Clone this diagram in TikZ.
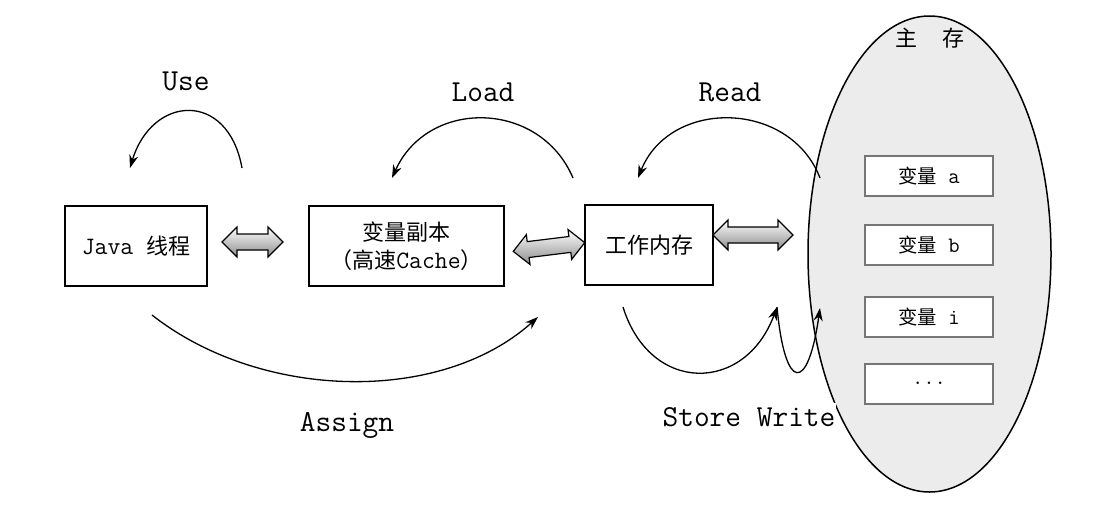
\documentclass[tikz,border=0pt]{standalone}
\usepackage{fontspec}
\newfontfamily\cjk[Scale=0.88]{Noto Sans CJK SC}
\usetikzlibrary{shapes.geometric,arrows.meta}
\definecolor{memfill}{RGB}{236,236,236}
\definecolor{boxgray}{RGB}{118,118,118}
\newcommand{\FatDblArrow}[4]{%
  \begin{scope}[rotate around={#4:({(#1+#2)/2},#3)}]
    \path[fat] (#1,#3) -- ({#1+15},{#3-15}) -- ({#1+15},{#3-8}) -- ({#2-15},{#3-8})
      -- ({#2-15},{#3-15}) -- (#2,#3) -- ({#2-15},{#3+15}) -- ({#2-15},{#3+8})
      -- ({#1+15},{#3+8}) -- ({#1+15},{#3+15}) -- cycle;
  \end{scope}}
\begin{document}
\begin{tikzpicture}[x=1pt,y=-1pt,
  box/.style={draw, line width=1.8pt, minimum height=80pt, inner sep=0pt,
    font=\ttfamily\fontsize{25}{28}\selectfont},
  membox/.style={draw=boxgray, fill=white, line width=2pt, minimum width=128pt,
    minimum height=40pt, inner sep=0pt, font=\ttfamily\fontsize{22}{25}\selectfont},
  lbl/.style={font=\ttfamily\fontsize{30.5}{33}\selectfont, inner sep=1pt},
  arc/.style={line width=1.3pt, -{Stealth[length=13pt,width=9pt]}},
  fat/.style={draw=black, line width=1.2pt, top color=white, bottom color=black!45}]
\useasboundingbox (0,0) rectangle (1117,507);
\fill[white] (0,0) rectangle (1117,507);

% main memory
\node[ellipse, draw, fill=memfill, line width=1.5pt, minimum width=243pt,
  minimum height=476pt, inner sep=0pt] (mem) at (929.5,254) {};
\node[font=\fontsize{25}{28}\selectfont] (memt) at (930,38) {{\cjk 主}\hspace{26pt}{\cjk 存}};
\node[membox] (va) at (929,176) {{\cjk 变量}\ a};
\node[membox] (vb) at (929,245) {{\cjk 变量}\ b};
\node[membox] (vi) at (929,317) {{\cjk 变量}\ i};
\node[membox] (vd) at (929,383.5) {...};

% boxes
\node[box, minimum width=142pt] (java) at (136,246) {Java {\cjk 线程}};
\node[box, minimum width=195pt, align=center] (cache) at (406.5,246)
  {{\cjk 变量副本}\\{\cjk （高速}Cache{\cjk ）}};
\node[box, minimum width=128pt] (work) at (649,245) {\cjk 工作内存};

% fat double arrows
\FatDblArrow{222}{283}{242}{0}
\FatDblArrow{513}{585}{247}{7}
\FatDblArrow{713}{793}{235}{0}

% curved arrows
\coordinate (useS) at (242,168);
\coordinate (useE) at (130,168);
\draw[arc] (useS) .. controls (228,90) and (152,95) .. (useE);
\node[lbl] (useL) at (186,81) {Use};

\coordinate (loadS) at (573,178);
\coordinate (loadE) at (392,178);
\draw[arc] (loadS) .. controls (540,100) and (428,98) .. (loadE);
\node[lbl] (loadL) at (483,92) {Load};

\coordinate (readS) at (820,178);
\coordinate (readE) at (638,178);
\draw[arc] (readS) .. controls (790,100) and (670,98) .. (readE);
\node[lbl] (readL) at (730,92) {Read};

\coordinate (asgS) at (152,315);
\coordinate (asgE) at (538,317);
\draw[arc] (asgS) .. controls (260,400) and (440,405) .. (asgE);
\node[lbl] (asgL) at (347,425) {Assign};

\coordinate (stS) at (623,307);
\coordinate (stE) at (777,307);
\draw[arc] (stS) .. controls (650,394) and (745,394) .. (stE);

\coordinate (wrE) at (820,308);
\draw[arc] (stE) .. controls (785,393) and (808,393) .. (wrE);

\node[lbl, fill=white, inner ysep=4pt] (swL) at (749,417) {Store Write};
\end{tikzpicture}
\end{document}
